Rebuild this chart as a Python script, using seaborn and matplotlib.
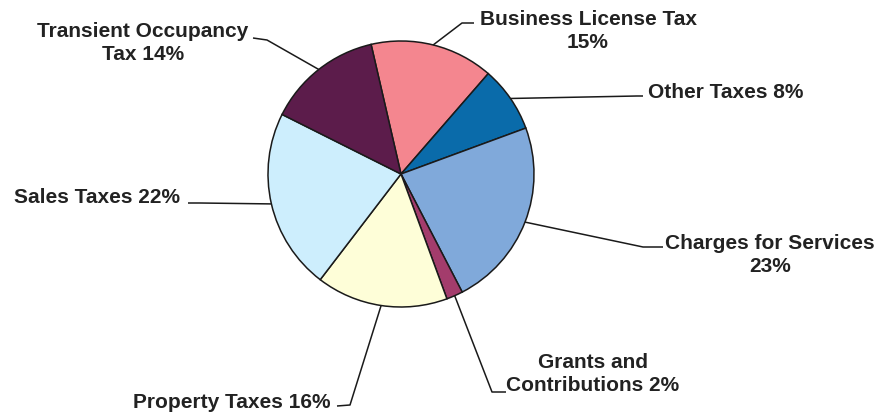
import numpy as np
import matplotlib
matplotlib.use("Agg")
import matplotlib.pyplot as plt
import seaborn as sns

# Revenue sources (share of total, %)
categories = ["Business License Tax", "Other Taxes", "Charges for Services",
              "Grants and Contributions", "Property Taxes", "Sales Taxes",
              "Transient Occupancy Tax"]
shares = [15, 8, 23, 2, 16, 22, 14]
label_texts = ["Business License Tax\n15%", "Other Taxes 8%", "Charges for Services\n23%",
               "Grants and\nContributions 2%", "Property Taxes 16%", "Sales Taxes 22%",
               "Transient Occupancy\nTax 14%"]
colors = ["#F4868F", "#0A6BAA", "#80A9DA", "#A33C6C", "#FEFED8", "#CDEEFD", "#5C1C4B"]

# layout in pixels (from top-left): text anchor, alignment, elbow of leader line
text_pos = [(588, 31), (648, 92), (770, 255), (593, 374), (133, 403), (14, 198), (143, 43)]
text_ha = ["center", "left", "center", "center", "left", "left", "center"]
line_start = [(474, 24), (643, 97), (663, 248), (506, 393), (337, 407), (188, 204), (253, 39)]
elbow = [(462, 24), (637, 97), (643, 248), (492, 393), (350, 406), (200, 204), (267, 41)]

CX, CY, R = 401, 175, 133
W, H = 880, 414


def px(x, y):
    return (x - CX) / R, (CY - y) / R


sns.set_theme(style="white")
plt.rcParams["font.family"] = ["Liberation Sans", "DejaVu Sans"]

fig = plt.figure(figsize=(8.8, 4.14), dpi=100)
ax = fig.add_axes([0, 0, 1, 1])

wedges, _ = ax.pie(shares, colors=colors, startangle=103, counterclock=False,
                   radius=1, wedgeprops=dict(edgecolor="#1a1a1a", linewidth=1.1))

for i, w in enumerate(wedges):
    mid = np.deg2rad((w.theta1 + w.theta2) / 2)
    ex, ey = np.cos(mid), np.sin(mid)
    sx, sy = px(*line_start[i])
    bx, by = px(*elbow[i])
    ax.plot([sx, bx, ex], [sy, by, ey], color="#1a1a1a", lw=1.1, solid_capstyle="butt")
    tx, ty = px(*text_pos[i])
    ax.text(tx, ty, label_texts[i], ha=text_ha[i], va="center", multialignment="center",
            fontsize=15, fontweight="bold", color="#222222", linespacing=1.3)

x0, y0 = px(0, H)
x1, y1 = px(W, 0)
ax.set_xlim(x0, x1)
ax.set_ylim(y0, y1)
ax.set_aspect("equal")
ax.axis("off")

fig.savefig("out.png", dpi=100, facecolor="white")
